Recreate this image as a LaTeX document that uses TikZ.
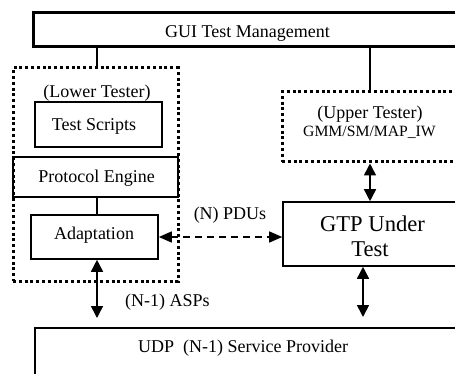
\documentclass[tikz,border=0pt]{standalone}
\usepackage{fontspec}
\setmainfont{Liberation Serif}
\usetikzlibrary{arrows.meta}
\begin{document}
\begin{tikzpicture}[x=1pt,y=-1pt,
  box/.style={draw, line width=1.6pt, inner sep=0pt},
  thickbox/.style={draw, line width=3pt, inner sep=0pt},
  dotbox/.style={draw, line width=3pt, dash pattern=on 3pt off 2.8pt, inner sep=0pt},
  txt/.style={anchor=base, inner sep=0pt, font=\fontsize{18}{20}\selectfont},
  link/.style={line width=1.5pt},
  biarrow/.style={line width=1.6pt, {Triangle[length=12pt,width=12pt]}-{Triangle[length=12pt,width=12pt]}},
  dasharrow/.style={line width=1.5pt, dash pattern=on 7pt off 5pt, {Triangle[length=13pt,width=11pt]}-{Triangle[length=13pt,width=11pt]}}
]
\useasboundingbox (0,0) rectangle (455,374);
\clip (0,0) rectangle (455,374);

% boxes
\node[thickbox, minimum width=429pt, minimum height=34pt] (gui) at (247.5,30) {};
\node[dotbox, minimum width=165pt, minimum height=213pt] (lower) at (95.5,174.5) {};
\node[box, minimum width=127pt, minimum height=45pt] (ts) at (98.5,124.5) {};
\node[box, minimum width=165pt, minimum height=40pt] (pe) at (95.5,177) {};
\node[box, minimum width=127pt, minimum height=44pt] (ad) at (94.5,237) {};
\node[dotbox, minimum width=198pt, minimum height=70pt] (ut) at (381,127) {};
\node[box, minimum width=182pt, minimum height=64pt] (gtp) at (374,234) {};
\node[box, minimum width=445pt, minimum height=92pt] (udp) at (257.5,374) {};

% texts
\node[txt] (guit) at (247.5,38) {GUI Test Management};
\node[txt] (ltt) at (97,98) {(Lower Tester)};
\node[txt] (tst) at (94,131) {Test Scripts};
\node[txt] (pet) at (96.5,183) {Protocol Engine};
\node[txt] (adt) at (94,240) {Adaptation};
\node[txt] (pdut) at (230,219) {(N) PDUs};
\node[txt] (aspt) at (167.5,306) {(N-1) ASPs};
\node[txt, anchor=base west] (udpt) at (138,352) {UDP\ \ (N-1) Service Provider};
\node[txt] (utt) at (370,119) {(Upper Tester)};
\node[txt, font=\fontsize{15.7}{18}\selectfont] (gmmt) at (369.5,137) {GMM/SM/MAP\_IW};
\node[txt, font=\fontsize{22.6}{24}\selectfont] (gtpt1) at (372.5,232) {GTP Under};
\node[txt, font=\fontsize{22.6}{24}\selectfont] (gtpt2) at (370,256) {Test};

% coordinates
\coordinate (lx) at (97,0);
\coordinate (ux) at (370,0);
\coordinate (asp) at (97,318);
\coordinate (gd) at (363,317);

% connectors
\draw[link] (gui.south -| lx) -- (lower.north -| lx);
\draw[link] (gui.south -| ux) -- (ut.north -| ux);
\draw[link] (pe.south -| lx) -- (ad.north -| lx);
\draw[biarrow] (ad.south -| lx) -- (asp);
\draw[biarrow] (ut.south -| ux) -- (gtp.north -| ux);
\draw[biarrow] (gtp.south -| gd) -- (gd);
\draw[dasharrow] (ad.east) -- (gtp.west |- ad.east);
\end{tikzpicture}
\end{document}
